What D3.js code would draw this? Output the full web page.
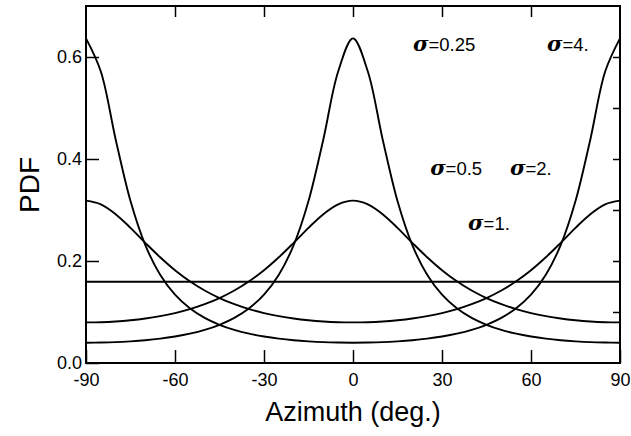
<!DOCTYPE html>
<html>
<head>
<meta charset="utf-8">
<script src="https://cdn.jsdelivr.net/npm/d3@7"></script>
<style>
  body { margin: 0; background: #fff; }
  text { font-family: "Liberation Sans", Arial, sans-serif; fill: #000; }
</style>
</head>
<body>
<div id="viz"></div>
<script>
(function() {

// azimuth samples (deg.), every 5 degrees
var azimuth = [-90,-85,-80,-75,-70,-65,-60,-55,-50,-45,-40,-35,-30,-25,-20,-15,-10,-5,
                0,5,10,15,20,25,30,35,40,45,50,55,60,65,70,75,80,85,90];

// PDF values
var pdf025 = [0.0398,0.0401,0.0409,0.0425,0.0447,0.0478,0.0520,0.0575,0.0649,0.0749,0.0884,0.1073,0.1340,0.1730,0.2311,0.3175,0.4384,0.5715,
              0.6366,0.5715,0.4384,0.3175,0.2311,0.1730,0.1340,0.1073,0.0884,0.0749,0.0649,0.0575,0.0520,0.0478,0.0447,0.0425,0.0409,0.0401,0.0398];
var pdf05  = [0.0796,0.0800,0.0814,0.0838,0.0872,0.0919,0.0979,0.1056,0.1153,0.1273,0.1421,0.1602,0.1819,0.2073,0.2356,0.2650,0.2919,0.3112,
              0.3183,0.3112,0.2919,0.2650,0.2356,0.2073,0.1819,0.1602,0.1421,0.1273,0.1153,0.1056,0.0979,0.0919,0.0872,0.0838,0.0814,0.0800,0.0796];
var pdf1   = [0.1592,0.1592,0.1592,0.1592,0.1592,0.1592,0.1592,0.1592,0.1592,0.1592,0.1592,0.1592,0.1592,0.1592,0.1592,0.1592,0.1592,0.1592,
              0.1592,0.1592,0.1592,0.1592,0.1592,0.1592,0.1592,0.1592,0.1592,0.1592,0.1592,0.1592,0.1592,0.1592,0.1592,0.1592,0.1592,0.1592,0.1592];
var pdf2   = [0.3183,0.3112,0.2919,0.2650,0.2356,0.2073,0.1819,0.1602,0.1421,0.1273,0.1153,0.1056,0.0979,0.0919,0.0872,0.0838,0.0814,0.0800,
              0.0796,0.0800,0.0814,0.0838,0.0872,0.0919,0.0979,0.1056,0.1153,0.1273,0.1421,0.1602,0.1819,0.2073,0.2356,0.2650,0.2919,0.3112,0.3183];
var pdf4   = [0.6366,0.5715,0.4384,0.3175,0.2311,0.1730,0.1340,0.1073,0.0884,0.0749,0.0649,0.0575,0.0520,0.0478,0.0447,0.0425,0.0409,0.0401,
              0.0398,0.0401,0.0409,0.0425,0.0447,0.0478,0.0520,0.0575,0.0649,0.0749,0.0884,0.1073,0.1340,0.1730,0.2311,0.3175,0.4384,0.5715,0.6366];

var seriesList = [pdf025, pdf05, pdf1, pdf2, pdf4];

// curve labels: sigma value + where it sits (azimuth, pdf)
var labelText = ["0.25", "4.", "0.5", "2.", "1."];
var labelAz   = [20.2, 65.4, 26, 52.9, 38.8];
var labelPdf  = [0.612, 0.612, 0.369, 0.369, 0.261];

var xTicks = [-90, -60, -30, 0, 30, 60, 90];
var yTicks = [0.0, 0.2, 0.4, 0.6];
var yMinor = [0.1, 0.2, 0.3, 0.4, 0.5, 0.6];

var W = 631, H = 436;
var m = {left: 86, right: 11, top: 6, bottom: 73};

var svg = d3.select("#viz").append("svg")
    .attr("width", W)
    .attr("height", H);

var x = d3.scaleLinear().domain([-90, 90]).range([m.left, W - m.right]);
var y = d3.scaleLinear().domain([0, 0.70]).range([H - m.bottom, m.top]);

// frame
svg.append("rect")
    .attr("x", x(-90)).attr("y", y(0.70))
    .attr("width", x(90) - x(-90)).attr("height", y(0) - y(0.70))
    .attr("fill", "none").attr("stroke", "#000").attr("stroke-width", 2);

// bottom axis, ticks pointing in
var xb = svg.append("g")
    .attr("transform", "translate(0," + y(0) + ")")
    .call(d3.axisBottom(x).tickValues(xTicks).tickSizeInner(-13).tickSizeOuter(0)
        .tickPadding(10).tickFormat(function(d) { return String(d); }));
xb.select(".domain").remove();
xb.selectAll("line").attr("stroke-width", 1.5);
xb.selectAll("text").style("font-size", "18px");

// top ticks
var xt = svg.append("g")
    .attr("transform", "translate(0," + y(0.70) + ")")
    .call(d3.axisTop(x).tickValues([-60, -30, 0, 30, 60]).tickSizeInner(-11).tickSizeOuter(0).tickFormat(""));
xt.select(".domain").remove();
xt.selectAll("line").attr("stroke-width", 1.5);

// left axis
var yl = svg.append("g")
    .attr("transform", "translate(" + x(-90) + ",0)")
    .call(d3.axisLeft(y).tickValues(yTicks).tickSizeInner(-13).tickSizeOuter(0)
        .tickPadding(4).tickFormat(d3.format(".1f")));
yl.select(".domain").remove();
yl.selectAll("line").attr("stroke-width", 1.5);
yl.selectAll("text").style("font-size", "18px");

// right minor ticks
var yr = svg.append("g")
    .attr("transform", "translate(" + x(90) + ",0)")
    .call(d3.axisRight(y).tickValues(yMinor).tickSizeInner(-7).tickSizeOuter(0).tickFormat(""));
yr.select(".domain").remove();
yr.selectAll("line").attr("stroke-width", 1.5);

// curves
var line = d3.line()
    .x(function(d, i) { return x(azimuth[i]); })
    .y(function(d) { return y(d); })
    .curve(d3.curveCatmullRom.alpha(0.5));

svg.selectAll(".curve")
    .data(seriesList)
    .enter().append("path")
    .attr("class", "curve")
    .attr("d", line)
    .attr("fill", "none")
    .attr("stroke", "#000")
    .attr("stroke-width", 1.9);

// sigma labels
var lab = svg.selectAll(".sig")
    .data(labelText)
    .enter().append("text")
    .attr("class", "sig")
    .attr("x", function(d, i) { return x(labelAz[i]); })
    .attr("y", function(d, i) { return y(labelPdf[i]); })
    .style("font-size", "18.5px");
lab.append("tspan")
    .style("font-family", "'DejaVu Serif', serif")
    .style("font-style", "italic")
    .style("font-weight", "bold")
    .style("font-size", "21px")
    .text("σ");
lab.append("tspan").text(function(d) { return "=" + d; });

// axis titles
svg.append("text")
    .attr("x", (x(-90) + x(90)) / 2)
    .attr("y", 421)
    .attr("text-anchor", "middle")
    .style("font-size", "27px")
    .text("Azimuth (deg.)");

svg.append("text")
    .attr("transform", "translate(39,185) rotate(-90)")
    .attr("text-anchor", "middle")
    .style("font-size", "28px")
    .text("PDF");

})();
</script>
</body>
</html>
